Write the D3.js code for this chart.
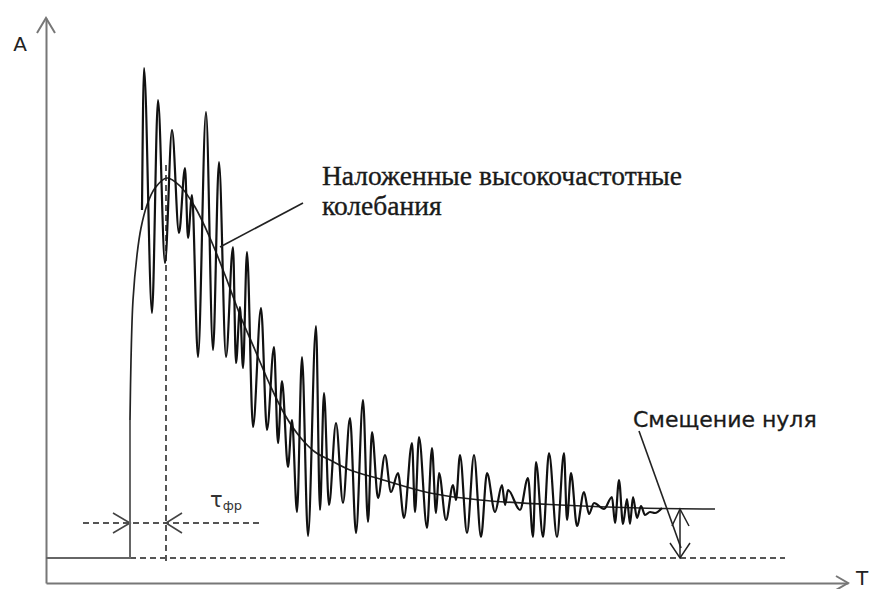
<!DOCTYPE html>
<html>
<head>
<meta charset="utf-8">
<script src="https://cdn.jsdelivr.net/npm/d3@7/dist/d3.min.js"></script>
<style>
    body { margin: 0; background: #fff; }
</style>
</head>
<body>
<script>
// Values. Time t in arbitrary units (0..200),
// amplitude A in arbitrary units, zero of the signal = dashed line.

// flat part of the signal before the pulse, then the jump up
var pulseBase = [[0, 0], [21, 0], [21, 27.6]];

// smooth envelope of the pulse
var envelope = [
    [21, 27.6], [21.25, 39.6], [21.75, 51.6], [22.75, 60.6], [23.75, 66],
    [25.25, 70.6], [27.25, 74], [30.25, 76], [33.5, 74.4], [37.25, 70.2],
    [41, 64], [44.75, 56.6], [48.5, 48.6], [52.25, 41.6], [56, 34.6],
    [59.75, 28.6], [63.5, 24.2], [67.25, 21.2], [71, 19.6], [76, 17.6],
    [83.5, 15.8], [96, 13], [108.5, 11.6], [128.5, 10.6], [148.5, 10],
    [167.25, 9.8]
];

// overlaid high-frequency ripple: peaks and troughs in turn
var ripple = [
    [24, 69.6], [24.5, 98], [26.5, 49], [28, 91.6], [29.75, 59],
    [31.5, 85.6], [33.25, 65], [34.75, 78], [35.5, 64], [36.5, 72.6],
    [38, 40.2], [40, 89.2], [41.75, 41.6], [43.25, 79.2], [45, 40.2],
    [46.75, 62.2], [47.5, 39], [48.5, 50.2], [49.25, 38], [50.25, 61.2],
    [51.75, 26.2], [53.75, 50], [55.25, 25.6], [57, 42.2], [58, 23],
    [59, 35.4], [60.5, 18.2], [61.5, 27.6], [62.75, 9.2], [64, 40.2],
    [65.5, 4.4], [67.5, 46.4], [68.5, 9.6], [69.5, 33], [70.75, 10.6],
    [72.5, 27], [74.25, 11], [76, 28], [77.5, 5], [79.25, 31.6],
    [80.5, 7.2], [81.5, 25.2], [83, 12], [84.75, 20.6], [86.25, 13.2],
    [88, 17], [89.5, 8], [91.5, 23], [92.25, 9.2], [93.25, 24.2],
    [95.25, 6], [96.5, 22], [97.5, 9], [98.25, 17], [100, 7.6],
    [101.75, 14.6], [102.5, 11.6], [103.5, 20.6], [105.25, 5], [107, 20.6],
    [108.75, 4.2], [110.25, 17], [112.25, 9.2], [114, 14.6], [114.75, 10.6],
    [115.5, 13.6], [118.5, 9.6], [120.5, 16], [121.75, 4.2], [122.5, 19.2],
    [124.25, 4.2], [125.75, 21], [127.75, 4.2], [129.5, 21], [130.25, 7.6],
    [131.25, 17], [132.75, 6.4], [134.5, 13.2], [135.75, 8.8], [137, 11],
    [139.5, 9.8], [141.5, 12.2], [142.25, 7], [143.25, 15.6], [144.25, 6.8],
    [145.25, 11.8], [146, 6.8], [146.75, 12.2], [147.75, 8], [148.75, 10.4],
    [149.75, 8.6], [151, 9.2], [152.25, 9], [154, 10]
];

// key times and levels
var riseTime = 21;          // start of the front
var peakTime = 30;          // maximum of the envelope
var tauLevel = 7;           // level of the tau dimension line
var tauLine = [9.25, 54.25];
var zeroLineEnd = 184.75;
var offsetTime = 158.5;     // where the zero offset is measured
var offsetLevel = 9.8;

// leader lines of the notes
var rippleLeader = [[43.5, 62.2], [64.25, 71]];
var offsetLeader = [[148.25, 25.4], [158.75, 2]];

// texts
var rippleNote = ["Наложенные высокочастотные", "колебания"];
var offsetNote = "Смещение нуля";
var yLabel = "A", xLabel = "T";

var width = 871, height = 589;

var svg = d3.select("body").append("svg")
    .attr("width", width)
    .attr("height", height);

var x = d3.scaleLinear().domain([0, 200.5]).range([46, 848]);
var y = d3.scaleLinear().domain([-5, 108]).range([583, 18]);

var line = d3.line()
    .x(function(d) { return x(d[0]); })
    .y(function(d) { return y(d[1]); });

/* Axes without ticks, only the domain lines, then open arrow heads. */
svg.append("g")
    .attr("transform", "translate(0," + y(-5) + ")")
    .call(d3.axisBottom(x).tickValues([]).tickSizeOuter(0))
    .select(".domain")
    .attr("stroke", "#777")
    .attr("stroke-width", 2);

svg.append("g")
    .attr("transform", "translate(" + x(0) + ",0)")
    .call(d3.axisLeft(y).tickValues([]).tickSizeOuter(0))
    .select(".domain")
    .attr("stroke", "#777")
    .attr("stroke-width", 2);

// open chevron: tip and two wing offsets in pixels
function chevron(px, py, w1, w2, color, sw) {
    svg.append("path")
        .attr("d", "M" + (px + w1[0]) + "," + (py + w1[1]) +
                   "L" + px + "," + py +
                   "L" + (px + w2[0]) + "," + (py + w2[1]))
        .attr("fill", "none")
        .attr("stroke", color)
        .attr("stroke-width", sw);
}

chevron(x(0), y(108), [-9, 15], [9, 15], "#777", 2);
chevron(x(200.5), y(-5), [-12, -7], [-12, 7], "#777", 2);

/* Dashed helper lines */
var dash = function(sel) {
    return sel.attr("fill", "none")
        .attr("stroke", "#555")
        .attr("stroke-width", 2)
        .attr("stroke-dasharray", "6,4");
};

dash(svg.append("path")
    .attr("d", line([[riseTime, 0], [zeroLineEnd, 0]])));

dash(svg.append("path")
    .attr("d", line([[peakTime, 78.6], [peakTime, -1]])));

dash(svg.append("path")
    .attr("d", line([[tauLine[0], tauLevel], [tauLine[1], tauLevel]])));

chevron(x(riseTime), y(tauLevel), [-17, -10], [-17, 10], "#444", 1.6);
chevron(x(peakTime), y(tauLevel), [16, -10], [16, 10], "#444", 1.6);

/* Signal: baseline and jump, envelope, ripple */
svg.append("path")
    .attr("d", line(pulseBase))
    .attr("fill", "none")
    .attr("stroke", "#666")
    .attr("stroke-width", 2);

svg.append("path")
    .attr("d", line.curve(d3.curveCatmullRom.alpha(0.5))(envelope))
    .attr("fill", "none")
    .attr("stroke", "#222")
    .attr("stroke-width", 1.7);

svg.append("path")
    .attr("d", line.curve(d3.curveMonotoneX)(ripple))
    .attr("fill", "none")
    .attr("stroke", "#111")
    .attr("stroke-width", 2.2);

line.curve(d3.curveLinear);

/* Zero offset dimension: double arrow */
svg.append("path")
    .attr("d", line([[offsetTime, offsetLevel], [offsetTime, 0]]))
    .attr("stroke", "#222")
    .attr("stroke-width", 1.5);
chevron(x(offsetTime), y(offsetLevel), [-8, 17], [9, 17], "#222", 1.5);
chevron(x(offsetTime), y(0), [-10, -15], [10, -15], "#222", 1.5);

/* Leader lines */
[rippleLeader, offsetLeader].forEach(function(l) {
    svg.append("path")
        .attr("d", line(l))
        .attr("stroke", "#222")
        .attr("stroke-width", 1.6);
});

/* Texts, a thin stroke makes them as dark as in the scan */
svg.selectAll(".note")
    .data(rippleNote)
    .enter()
    .append("text")
    .attr("x", x(69))
    .attr("y", function(d, i) { return y(74.6 - i * 6); })
    .style("font-family", "'Liberation Serif', serif")
    .style("font-size", "27.5px")
    .attr("fill", "#1a1a1a")
    .attr("stroke", "#1a1a1a")
    .attr("stroke-width", 0.35)
    .text(function(d) { return d; });

svg.append("text")
    .attr("x", x(146.75))
    .attr("y", y(26.2))
    .style("font-family", "'DejaVu Sans', sans-serif")
    .style("font-size", "22px")
    .attr("fill", "#1a1a1a")
    .attr("stroke", "#1a1a1a")
    .attr("stroke-width", 0.3)
    .text(offsetNote);

var tau = svg.append("text")
    .attr("x", x(41))
    .attr("y", y(10.2))
    .style("font-family", "'DejaVu Sans', sans-serif")
    .attr("fill", "#333");
tau.append("tspan").style("font-size", "21px").text("τ");
tau.append("tspan").style("font-size", "13px").attr("dy", 3).text("фр");

svg.append("text")
    .attr("x", x(-6.5))
    .attr("y", y(101.4))
    .attr("text-anchor", "middle")
    .style("font-family", "'DejaVu Sans', sans-serif")
    .style("font-size", "20px")
    .attr("fill", "#222")
    .text(yLabel);

svg.append("text")
    .attr("x", x(202.5))
    .attr("y", y(-5.4))
    .style("font-family", "'DejaVu Sans', sans-serif")
    .style("font-size", "20px")
    .attr("fill", "#222")
    .text(xLabel);
</script>
</body>
</html>
